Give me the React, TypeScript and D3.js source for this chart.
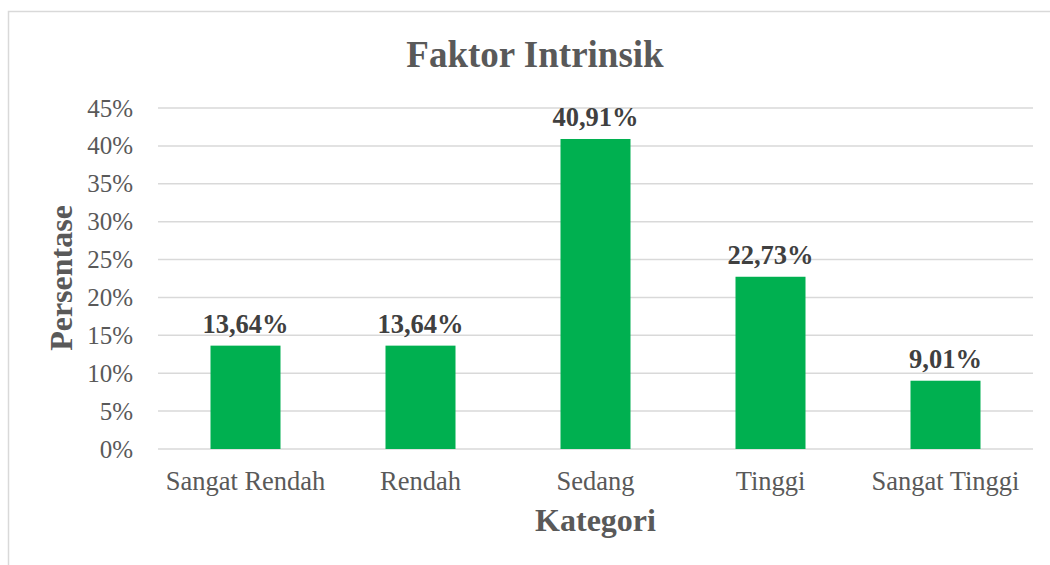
import React from "react";
import * as d3 from "d3";

const categories = ["Sangat Rendah", "Rendah", "Sedang", "Tinggi", "Sangat Tinggi"];
const values = [13.64, 13.64, 40.91, 22.73, 9.01];
const labels = ["13,64%", "13,64%", "40,91%", "22,73%", "9,01%"];
const yTicks = [0, 5, 10, 15, 20, 25, 30, 35, 40, 45];
const title = "Faktor Intrinsik";
const xTitle = "Kategori";
const yTitle = "Persentase";

const FONT = "'Liberation Serif', 'Times New Roman', serif";

export default function App() {
  const W = 1050;
  const H = 565;
  const plotLeft = 158;
  const plotRight = 1033;
  const y = d3.scaleLinear().domain([0, 45]).range([449, 108]);
  const x = d3
    .scaleBand<string>()
    .domain(categories)
    .range([plotLeft, plotRight])
    .paddingInner(0.6)
    .paddingOuter(0.3);

  return (
    <svg
      width={W}
      height={H}
      style={{ position: "absolute", left: 0, top: 0, display: "block" }}
      fontFamily={FONT}
    >
      <rect x={0} y={0} width={W} height={H} fill="#ffffff" />
      <rect x={8.5} y={11.5} width={1100} height={700} fill="#ffffff" stroke="#d9d9d9" strokeWidth={1.5} />
      <text x={535} y={67} textAnchor="middle" fontSize={37} fontWeight="bold" fill="#595959">
        {title}
      </text>
      {yTicks.map((t) => (
        <g key={t}>
          <line x1={plotLeft} x2={plotRight} y1={y(t)} y2={y(t)} stroke="#d9d9d9" strokeWidth={1.5} />
          <text x={133} y={y(t) + 8.5} textAnchor="end" fontSize={25} fill="#595959">
            {t}%
          </text>
        </g>
      ))}
      {categories.map((c, i) => (
        <g key={c}>
          <rect
            x={x(c)!}
            y={y(values[i])}
            width={x.bandwidth()}
            height={y(0) - y(values[i])}
            fill="#00b050"
          />
          <text
            x={x(c)! + x.bandwidth() / 2}
            y={y(values[i]) - 13}
            textAnchor="middle"
            fontSize={26.5}
            fontWeight="bold"
            fill="#404040"
          >
            {labels[i]}
          </text>
          <text
            x={x(c)! + x.bandwidth() / 2}
            y={490}
            textAnchor="middle"
            fontSize={26.5}
            fill="#595959"
          >
            {c}
          </text>
        </g>
      ))}
      <text x={plotLeft + (plotRight - plotLeft) / 2} y={531} textAnchor="middle" fontSize={32} fontWeight="bold" fill="#595959">
        {xTitle}
      </text>
      <text
        transform={`translate(72,${278}) rotate(-90)`}
        textAnchor="middle"
        fontSize={32}
        fontWeight="bold"
        fill="#595959"
      >
        {yTitle}
      </text>
    </svg>
  );
}
